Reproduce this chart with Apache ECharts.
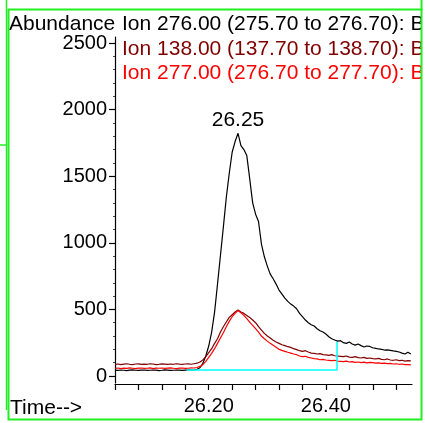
<!DOCTYPE html>
<html>
<head>
<meta charset="utf-8">
<script src="https://cdn.jsdelivr.net/npm/echarts@6/dist/echarts.min.js"></script>
<style>
  html, body { margin: 0; padding: 0; background: #fff; }
  #main { width: 425px; height: 423px; }
</style>
</head>
<body>
<div id="main"></div>
<script>
// retention time axis, 0.005 min per sample
var times = [];
for (var i = 0; i <= 101; i++) {
    times.push(+(26.04 + i * 0.005).toFixed(3));
}

var ion276 = [44, 42, 45, 43, 41, 44, 46, 43, 42, 44, 45, 42, 43, 45, 44, 41, 43, 46, 44, 42,
    43, 45, 44, 42, 44, 46, 45, 47, 50, 62, 95, 150, 225, 330, 480, 690, 905, 1120, 1340, 1520,
    1680, 1760, 1822, 1730, 1700, 1655, 1480, 1300, 1215, 1160, 990, 895, 825, 765, 730, 690, 645, 615, 585, 560,
    540, 525, 505, 470, 445, 420, 400, 385, 375, 355, 340, 330, 315, 295, 280, 270, 262, 265, 250, 245,
    255, 240, 232, 240, 228, 218, 225, 222, 212, 208, 203, 200, 195, 196, 192, 188, 185, 180, 172, 165,
    178, 165];

var ion138 = [88, 90, 86, 89, 92, 88, 86, 90, 91, 87, 89, 88, 92, 90, 86, 88, 91, 89, 87, 90,
    88, 92, 89, 87, 90, 91, 88, 92, 96, 105, 120, 145, 175, 205, 245, 280, 330, 370, 405, 440,
    460, 480, 495, 480, 470, 455, 440, 420, 400, 370, 345, 320, 300, 285, 268, 255, 245, 235, 228, 220,
    215, 205, 198, 190, 185, 190, 180, 172, 170, 165, 168, 160, 158, 155, 160, 152, 150, 148, 145, 150,
    142, 140, 145, 138, 135, 140, 132, 135, 130, 128, 132, 125, 122, 128, 120, 118, 122, 115, 118, 112,
    115, 113];

var ion277 = [58, 60, 56, 59, 57, 61, 58, 55, 59, 60, 57, 58, 61, 56, 59, 58, 60, 57, 59, 61,
    58, 56, 59, 60, 57, 58, 61, 60, 64, 72, 85, 110, 140, 170, 205, 245, 285, 325, 370, 410,
    445, 470, 492, 475, 455, 430, 405, 380, 355, 330, 300, 280, 262, 245, 230, 215, 200, 192, 185, 178,
    172, 165, 160, 150, 145, 148, 140, 135, 130, 128, 122, 125, 120, 118, 115, 118, 112, 110, 108, 112,
    105, 108, 102, 105, 100, 104, 98, 102, 100, 96, 98, 95, 97, 93, 95, 90, 92, 88, 90, 86,
    85, 83];

// integration baseline drawn in cyan
var baseTimes = [26.162, 26.419, 26.419];
var baseVals = [45, 45, 255];

var legendLines = [
    'Ion 276.00 (275.70 to 276.70): Base',
    'Ion 138.00 (137.70 to 138.70): Base',
    'Ion 277.00 (276.70 to 277.70): Base'
];
var legendColors = ['#000000', '#800000', '#ff0000'];

function pairs(xs, ys) {
    var out = [];
    for (var i = 0; i < ys.length; i++) out.push([xs[i], ys[i]]);
    return out;
}

var peakIdx = 0;
for (var i = 1; i < ion276.length; i++) {
    if (ion276[i] > ion276[peakIdx]) peakIdx = i;
}

var FONT = 'Liberation Sans, Arial, sans-serif';
var GREEN = '#22ee22';

var myChart = echarts.init(document.getElementById('main'), null, {renderer: 'canvas'});

var graphics = [];
graphics.push({type: 'text', left: 9, top: 14, style: {text: 'Abundance', font: '21px ' + FONT, fill: '#000'}});
for (var k = 0; k < legendLines.length; k++) {
    graphics.push({type: 'text', left: 122, top: 14 + k * 24.5, style: {text: legendLines[k], font: '21px ' + FONT, fill: legendColors[k]}});
}
graphics.push({type: 'text', left: 10, top: 398, style: {text: 'Time-->', font: '21px ' + FONT, fill: '#000'}});
// cover text beyond the frame
graphics.push({type: 'rect', shape: {x: 422, y: 0, width: 10, height: 423}, style: {fill: '#fff'}, z: 100});
// green frame lines
graphics.push({type: 'rect', shape: {x: 8.5, y: 9.5, width: 413, height: 410}, style: {fill: null, stroke: GREEN, lineWidth: 2}, z: 101});
graphics.push({type: 'line', shape: {x1: 6.5, y1: 0, x2: 6.5, y2: 410}, style: {stroke: GREEN, lineWidth: 1.5}, z: 101});
graphics.push({type: 'line', shape: {x1: 0, y1: 145, x2: 7, y2: 145}, style: {stroke: GREEN, lineWidth: 1.5}, z: 101});
graphics.push({type: 'line', shape: {x1: 421.5, y1: 0, x2: 421.5, y2: 10}, style: {stroke: GREEN, lineWidth: 2}, z: 101});

var option = {
    animation: false,
    backgroundColor: '#ffffff',
    textStyle: {fontFamily: FONT},
    grid: [
        {left: 115, right: 13, top: 43, bottom: 47},
        {left: 115, right: 13, top: 37, bottom: 40}
    ],
    xAxis: [
        {
            type: 'value',
            gridIndex: 0,
            min: 26.04,
            max: 26.547,
            interval: 0.04,
            offset: 8,
            axisLine: {show: true, onZero: false, lineStyle: {color: '#000', width: 1.2}},
            axisTick: {show: true, length: 6, lineStyle: {color: '#000', width: 1.2}},
            axisLabel: {
                color: '#000', fontSize: 20, margin: 12, fontFamily: FONT,
                showMaxLabel: false,
                formatter: function (v) {
                    return (Math.round(v * 100) % 20 === 0) ? v.toFixed(2) : '';
                }
            },
            splitLine: {show: false}
        },
        {type: 'value', gridIndex: 1, show: false, min: 0, max: 1}
    ],
    yAxis: [
        {
            type: 'value',
            gridIndex: 0,
            min: 0,
            max: 2500,
            interval: 500,
            axisLine: {show: false},
            axisTick: {show: true, length: 6, lineStyle: {color: '#000', width: 1.2}},
            minorTick: {show: true, splitNumber: 5, length: 2, lineStyle: {color: '#444'}},
            axisLabel: {
                color: '#000', fontSize: 20, margin: 8, fontFamily: FONT,
                formatter: function (v) { return String(v); }
            },
            splitLine: {show: false}
        },
        {
            type: 'value',
            gridIndex: 1,
            min: 0,
            max: 1,
            axisLine: {show: true, lineStyle: {color: '#000', width: 1.2}},
            axisTick: {show: false},
            axisLabel: {show: false},
            splitLine: {show: false}
        }
    ],
    graphic: graphics,
    series: [
        {
            name: 'Ion 276.00',
            type: 'line',
            data: pairs(times, ion276),
            showSymbol: false,
            lineStyle: {color: '#000000', width: 1.2},
            markPoint: {
                symbol: 'circle',
                symbolSize: 0,
                label: {
                    show: true, position: 'top', distance: 3, color: '#000', fontSize: 21, fontFamily: FONT,
                    formatter: function (p) { return p.data.coord[0].toFixed(2); }
                },
                data: [{coord: [times[peakIdx], ion276[peakIdx]]}]
            }
        },
        {
            name: 'Ion 138.00',
            type: 'line',
            data: pairs(times, ion138),
            showSymbol: false,
            lineStyle: {color: '#800000', width: 1.2}
        },
        {
            name: 'Ion 277.00',
            type: 'line',
            data: pairs(times, ion277),
            showSymbol: false,
            lineStyle: {color: '#ff0000', width: 1.2}
        },
        {
            name: 'baseline',
            type: 'line',
            data: pairs(baseTimes, baseVals),
            showSymbol: false,
            lineStyle: {color: '#00ffff', width: 1.5}
        }
    ]
};

myChart.setOption(option);
</script>
</body>
</html>
